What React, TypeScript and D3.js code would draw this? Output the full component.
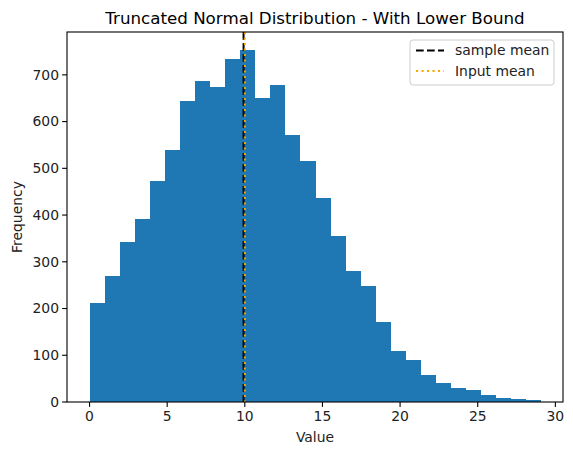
import React from "react";
import * as d3 from "d3";

const binCount = 30;
const binMin = 0;
const binMax = 29.04;
const counts = [212, 270, 343, 392, 473, 540, 643, 686, 673, 733, 754, 651, 679, 572, 516, 437, 356, 280, 248, 171, 109, 89, 57, 40, 29, 25, 15, 8, 6, 4];
const sampleMean = 9.92;
const inputMean = 10;
const xTicks = [0, 5, 10, 15, 20, 25, 30];
const yTicks = [0, 100, 200, 300, 400, 500, 600, 700];
const title = "Truncated Normal Distribution - With Lower Bound";
const xLabel = "Value";
const yLabel = "Frequency";

export default function App() {
  const W = 573, H = 455;
  const L = 67, R = 563, T = 32, B = 402;
  const range = binMax - binMin;
  const x = d3.scaleLinear().domain([binMin - 0.05 * range, binMax + 0.05 * range]).range([L, R]);
  const ymax = d3.max(counts)! * 1.05;
  const y = d3.scaleLinear().domain([0, ymax]).range([B, T]);
  const bw = range / binCount;
  const font = "DejaVu Sans, sans-serif";
  const dash = "7.7,3.3";
  const dot = "2.1,3.4";
  return (
    <svg width={W} height={H} style={{ position: "absolute", left: 0, top: 0 }} fontFamily={font}>
      <rect x={0} y={0} width={W} height={H} fill="#fff" />
      <g shapeRendering="crispEdges">
        {counts.map((c, i) => {
          const x0 = x(binMin + i * bw), x1 = x(binMin + (i + 1) * bw);
          return <rect key={i} x={x0} y={y(c)} width={x1 - x0 + 0.5} height={y(0) - y(c)} fill="#1f77b4" />;
        })}
      </g>
      <line x1={x(sampleMean)} x2={x(sampleMean)} y1={T} y2={B} stroke="#000" strokeWidth={2} strokeDasharray={dash} />
      <line x1={x(inputMean)} x2={x(inputMean)} y1={T} y2={B} stroke="orange" strokeWidth={2} strokeDasharray={dot} />
      <rect x={L} y={T} width={R - L} height={B - T} fill="none" stroke="#000" strokeWidth={1.1} />
      {xTicks.map((t) => (
        <g key={t} transform={`translate(${x(t)},${B})`}>
          <line y1={0} y2={4.9} stroke="#000" strokeWidth={1.1} />
          <text y={19} textAnchor="middle" fontSize={13.9} fill="#222">{t}</text>
        </g>
      ))}
      {yTicks.map((t) => (
        <g key={t} transform={`translate(${L},${y(t)})`}>
          <line x1={0} x2={-4.9} stroke="#000" strokeWidth={1.1} />
          <text x={-8} dy="0.35em" textAnchor="end" fontSize={13.9} fill="#222">{t}</text>
        </g>
      ))}
      <text x={(L + R) / 2} y={442} textAnchor="middle" fontSize={13.9} fill="#222">{xLabel}</text>
      <text transform={`translate(22,${(T + B) / 2}) rotate(-90)`} textAnchor="middle" fontSize={13.9} fill="#222">{yLabel}</text>
      <text x={(L + R) / 2} y={24} textAnchor="middle" fontSize={16.7} fill="#000">{title}</text>
      <g>
        <rect x={410} y={40} width={144} height={45} rx={3} fill="#fff" fillOpacity={0.8} stroke="#ccc" strokeWidth={1} />
        <line x1={416} x2={444} y1={50.5} y2={50.5} stroke="#000" strokeWidth={2} strokeDasharray={dash} />
        <text x={455} y={50.5} dy="0.35em" fontSize={13.9} fill="#222">sample mean</text>
        <line x1={416} x2={444} y1={71} y2={71} stroke="orange" strokeWidth={2} strokeDasharray={dot} />
        <text x={455} y={71} dy="0.35em" fontSize={13.9} fill="#222">Input mean</text>
      </g>
    </svg>
  );
}
